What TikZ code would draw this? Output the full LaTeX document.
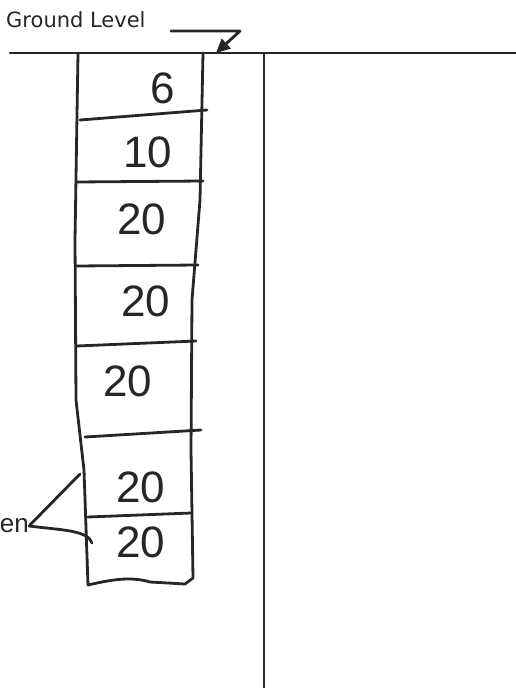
\documentclass[tikz,border=0pt]{standalone}
\usepackage{fontspec}
\setmainfont{Liberation Sans}
\newfontfamily\labelfont{DejaVu Sans}
\usetikzlibrary{arrows.meta}
\begin{document}
\begin{tikzpicture}[x=1pt,y=-1pt,
  pen/.style={line width=2.8pt,line join=round,line cap=round,black!85},
  num/.style={font=\fontsize{44}{46}\selectfont,text=black!85,inner sep=0pt},
  lbl/.style={font=\labelfont\fontsize{21}{23}\selectfont,text=black!85,inner sep=0pt}]
\useasboundingbox (0,0) rectangle (516,688);
% ground level
\node[lbl,anchor=west] (gl) at (6,20) {Ground Level};
\coordinate (g0) at (10,53);
\coordinate (g1) at (516,53);
\draw[pen] (g0) -- (g1);
% arrow
\coordinate (a0) at (171,31);
\coordinate (a1) at (240,31);
\coordinate (a2) at (216,53);
\draw[pen,-{Triangle[length=14pt,width=13pt,fill=black!85]}] (a0) -- (a1) -- (a2);
% right vertical line
\coordinate (v0) at (264,53);
\coordinate (v1) at (264,688);
\draw[pen] (v0) -- (v1);
% column sides
\draw[pen] (78,53) -- (75,240) -- (76,400) -- (84,470) -- (88,585)
  .. controls (110,580) and (130,576) .. (150,582) -- (185,584) -- (193,578)
  -- (191,450) -- (192,300) -- (200,200) -- (203,53);
% dividers
\draw[pen] (80,120) -- (207,110);
\draw[pen] (76,182) -- (203,181);
\draw[pen] (76,266) -- (198,265);
\draw[pen] (77,346) -- (196,341);
\draw[pen] (85,437) -- (201,430);
\draw[pen] (88,517) -- (191,513);
% numbers
\node[num] (n1) at (163,88) {6};
\node[num] (n2) at (148,152) {10};
\node[num] (n3) at (142,219) {20};
\node[num] (n4) at (146,301) {20};
\node[num] (n5) at (128,381) {20};
\node[num] (n6) at (141,487) {20};
\node[num] (n7) at (141,542) {20};
% label at left edge
\node[font=\fontsize{26}{28}\selectfont,text=black!85,inner sep=0pt,anchor=east] (en) at (29,526) {en};
\coordinate (e1) at (80,474);
\coordinate (e2) at (92,543);
\draw[pen] (en.east) -- (e1);
\draw[pen] (en.east) .. controls (60,530) and (88,530) .. (e2);
\end{tikzpicture}
\end{document}
